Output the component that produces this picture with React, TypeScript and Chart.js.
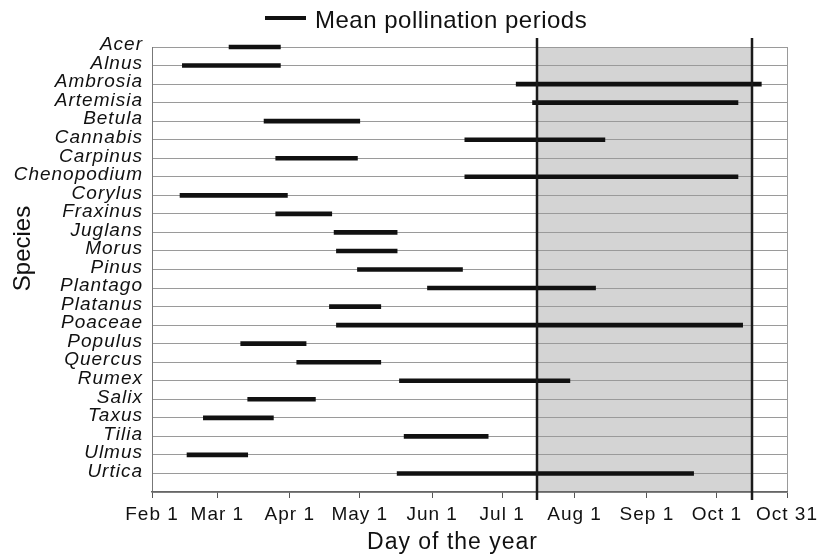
import React, { useEffect, useRef } from 'react';
import { Chart, registerables } from 'chart.js';

Chart.register(...registerables);

const SPECIES = [
  'Acer', 'Alnus', 'Ambrosia', 'Artemisia', 'Betula', 'Cannabis', 'Carpinus', 'Chenopodium',
  'Corylus', 'Fraxinus', 'Juglans', 'Morus', 'Pinus', 'Plantago', 'Platanus', 'Poaceae',
  'Populus', 'Quercus', 'Rumex', 'Salix', 'Taxus', 'Tilia', 'Ulmus', 'Urtica',
];
const START_DAY = [65, 45, 188, 195, 80, 166, 85, 166, 44, 85, 110, 111, 120, 150, 108, 111, 70, 94, 138, 73, 54, 140, 47, 137];
const END_DAY = [87, 87, 293, 283, 121, 226, 120, 283, 90, 109, 137, 137, 165, 222, 130, 285, 98, 130, 211, 102, 84, 176, 73, 264];

const TICK_DAYS = [32, 60, 91, 121, 152, 182, 213, 244, 274, 304];
const TICK_LABELS = ['Feb 1', 'Mar 1', 'Apr 1', 'May 1', 'Jun 1', 'Jul 1', 'Aug 1', 'Sep 1', 'Oct 1', 'Oct 31'];
const SEASON_DAYS = [197, 289];

const LEGEND_LABEL = 'Mean pollination periods';
const X_TITLE = 'Day of the year';
const Y_TITLE = 'Species';

const FONT = '"Liberation Sans", Arial, Helvetica, sans-serif';

const spacing = {
  id: 'spacing',
  beforeUpdate(chart: any) { chart.ctx.letterSpacing = '1px'; },
  beforeLayout(chart: any) { chart.ctx.letterSpacing = '1px'; },
  beforeDraw(chart: any) { chart.ctx.letterSpacing = '1px'; },
};

const overlay = {
  id: 'overlay',
  beforeDraw(chart: any) {
    const { ctx, chartArea: a, scales } = chart;
    const x0 = scales.x.getPixelForValue(SEASON_DAYS[0]);
    const x1 = scales.x.getPixelForValue(SEASON_DAYS[1]);
    ctx.save();
    ctx.fillStyle = '#d4d4d4';
    ctx.fillRect(x0, a.top, x1 - x0, a.bottom - a.top);
    ctx.restore();
  },
  afterDatasetsDraw(chart: any) {
    const { ctx, chartArea: a, scales } = chart;
    ctx.save();
    ctx.strokeStyle = '#1a1a1a';
    ctx.lineWidth = 2.5;
    for (const d of SEASON_DAYS) {
      const px = Math.round(scales.x.getPixelForValue(d));
      ctx.beginPath();
      ctx.moveTo(px, a.top - 9);
      ctx.lineTo(px, a.bottom + 8);
      ctx.stroke();
    }
    ctx.restore();
  },
  afterDraw(chart: any) {
    const { ctx, chartArea: a } = chart;
    ctx.save();
    // legend
    ctx.strokeStyle = '#111';
    ctx.lineWidth = 4;
    ctx.beginPath();
    ctx.moveTo(265, 18);
    ctx.lineTo(306, 18);
    ctx.stroke();
    ctx.fillStyle = '#111';
    ctx.letterSpacing = '0.5px';
    ctx.font = `24px ${FONT}`;
    ctx.textBaseline = 'alphabetic';
    ctx.textAlign = 'left';
    ctx.fillText(LEGEND_LABEL, 315, 28);
    // x title
    ctx.letterSpacing = '1px';
    ctx.font = `23px ${FONT}`;
    ctx.textAlign = 'center';
    ctx.fillText(X_TITLE, (a.left + a.right) / 2 - 17, 549);
    // y title
    ctx.letterSpacing = '0px';
    ctx.font = `24px ${FONT}`;
    ctx.translate(30, (a.top + a.bottom) / 2 - 21);
    ctx.rotate(-Math.PI / 2);
    ctx.fillText(Y_TITLE, 0, 0);
    ctx.restore();
  },
};

export default function App() {
  const ref = useRef<HTMLCanvasElement | null>(null);
  useEffect(() => {
    if (!ref.current) return;
    const chart = new Chart(ref.current, {
      type: 'bar',
      data: {
        labels: [...SPECIES, ''],
        datasets: [
          {
            label: LEGEND_LABEL,
            data: START_DAY.map((s, i) => [s, END_DAY[i]]) as any,
            backgroundColor: '#111',
            borderWidth: 0,
            barThickness: 4,
            clip: false as any,
          },
        ],
      },
      options: {
        indexAxis: 'y',
        animation: false,
        responsive: false,
        maintainAspectRatio: false,
        layout: { padding: { top: 47, right: 36, left: 0, bottom: 0 } },
        plugins: { legend: { display: false }, tooltip: { enabled: false } },
        scales: {
          y: {
            type: 'category',
            offset: false,
            afterFit: (s: any) => { s.width = 152; },
            grid: { color: '#9a9a9a', drawTicks: false, offset: false, lineWidth: 1 },
            border: { color: '#777', width: 1 },
            ticks: {
              autoSkip: false,
              padding: 9,
              labelOffset: -2,
              color: '#111',
              font: { family: FONT, size: 19, style: 'italic' },
            },
          },
          x: {
            type: 'linear',
            min: TICK_DAYS[0],
            max: TICK_DAYS[TICK_DAYS.length - 1],
            afterBuildTicks: (s: any) => { s.ticks = TICK_DAYS.map((v) => ({ value: v })); },
            afterFit: (s: any) => { s.height = 63; },
            grid: {
              drawOnChartArea: true,
              color: (c: any) => (c.tick && c.tick.value === TICK_DAYS[TICK_DAYS.length - 1] ? '#9a9a9a' : 'rgba(0,0,0,0)'),
              tickColor: '#555',
              tickLength: 6,
            },
            border: { color: '#666', width: 1.5 },
            ticks: {
              autoSkip: false,
              maxRotation: 0,
              padding: 5,
              color: '#111',
              font: { family: FONT, size: 19 },
              callback: (v: any) => {
                const i = TICK_DAYS.indexOf(Number(v));
                return i >= 0 ? TICK_LABELS[i] : '';
              },
            },
          },
        },
      },
      plugins: [spacing, overlay],
    });
    return () => chart.destroy();
  }, []);
  return (
    <div style={{ position: 'absolute', left: 0, top: 0, width: 823, height: 555, background: '#fff' }}>
      <canvas ref={ref} width={823} height={555} style={{ width: 823, height: 555 }} />
    </div>
  );
}
